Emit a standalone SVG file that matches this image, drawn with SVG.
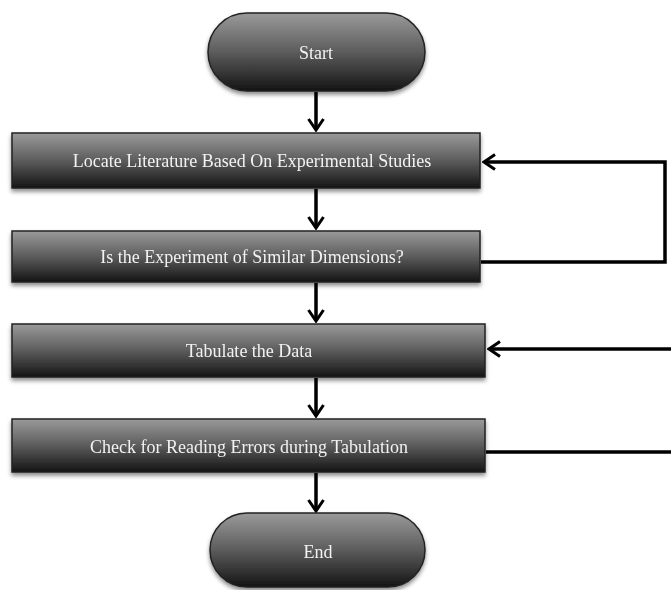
<svg xmlns="http://www.w3.org/2000/svg" width="671" height="590" viewBox="0 0 671 590">
<style>
.node{stroke:#222;stroke-width:1.5;fill:url(#g)}
.lbl{font-family:"Liberation Serif","DejaVu Serif",serif;font-size:18px;fill:#f2f2f2;text-anchor:middle}
.edge{stroke:#000;stroke-width:3.5;fill:none}
</style>
<defs>
<linearGradient id="g" x1="0" y1="0" x2="0" y2="1">
<stop offset="0" stop-color="#9a9a9a"/>
<stop offset="0.5" stop-color="#5c5c5c"/>
<stop offset="1" stop-color="#141414"/>
</linearGradient>
<filter id="sh" x="-5%" y="-10%" width="110%" height="130%">
<feDropShadow dx="0" dy="3" stdDeviation="2" flood-color="#000" flood-opacity="0.45"/>
</filter>
<marker id="ah" viewBox="0 0 16 18" refX="14" refY="9" markerWidth="16" markerHeight="18" markerUnits="userSpaceOnUse" orient="auto">
<polyline points="3,1.5 14,9 3,16.5" fill="none" stroke="#000" stroke-width="3"/>
</marker>
</defs>
<g id="edges">
<line class="edge" x1="316" y1="92" x2="316" y2="130" marker-end="url(#ah)"/>
<line class="edge" x1="316" y1="189" x2="316" y2="228" marker-end="url(#ah)"/>
<line class="edge" x1="316" y1="283" x2="316" y2="321" marker-end="url(#ah)"/>
<line class="edge" x1="316" y1="378" x2="316" y2="416" marker-end="url(#ah)"/>
<line class="edge" x1="316" y1="473" x2="316" y2="511" marker-end="url(#ah)"/>
<polyline class="edge" points="481,262 665,262 665,162 484,162" marker-end="url(#ah)"/>
<line class="edge" x1="671" y1="349" x2="489" y2="349" marker-end="url(#ah)"/>
<line class="edge" x1="486" y1="452" x2="671" y2="452"/>
</g>
<g id="start" filter="url(#sh)">
<rect class="node" x="208" y="13" width="217" height="78" rx="39"/>
<text class="lbl" x="316" y="59">Start</text>
</g>
<g id="locate" filter="url(#sh)">
<rect class="node" x="12" y="133" width="468" height="55"/>
<text class="lbl" x="252" y="167">Locate Literature Based On Experimental Studies</text>
</g>
<g id="similar" filter="url(#sh)">
<rect class="node" x="12" y="231" width="468" height="51"/>
<text class="lbl" x="252" y="263">Is the Experiment of Similar Dimensions?</text>
</g>
<g id="tabulate" filter="url(#sh)">
<rect class="node" x="12" y="324" width="473" height="53"/>
<text class="lbl" x="249" y="357">Tabulate the Data</text>
</g>
<g id="check" filter="url(#sh)">
<rect class="node" x="12" y="419" width="473" height="53"/>
<text class="lbl" x="249" y="453">Check for Reading Errors during Tabulation</text>
</g>
<g id="end" filter="url(#sh)">
<rect class="node" x="210" y="513" width="215" height="74" rx="37"/>
<text class="lbl" x="318" y="558">End</text>
</g>
</svg>
